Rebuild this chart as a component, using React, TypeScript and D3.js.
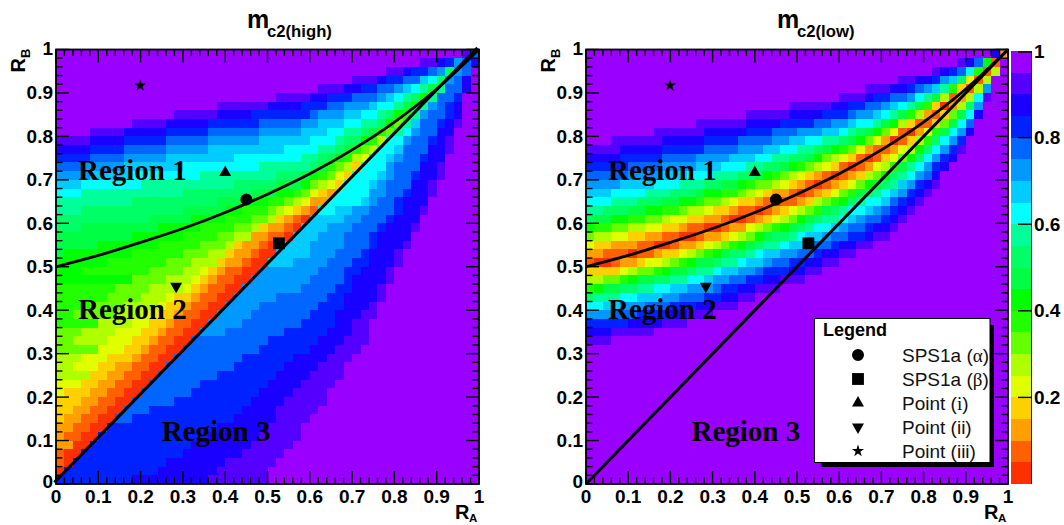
import React from "react";
import * as d3 from "d3";

// Band colours of the palette, from value 0 (index 0) to value 1 (index 19)
const BAND_COLORS = ["#ff3000","#ff6000","#ffa000","#ffd000","#e0ff00","#b0ff00","#66ff00","#22ff00","#00ff00","#00ff44","#00ff66","#00ff99","#00ffff","#00ccff","#0099ff","#0066ff","#0022ff","#1a00ff","#5500ff","#9900ff"];
const AXIS_LABELS = ["0","0.1","0.2","0.3","0.4","0.5","0.6","0.7","0.8","0.9","1"];
const PALETTE_LABELS = [["0.2",0.2],["0.4",0.4],["0.6",0.6],["0.8",0.8],["1",1]] as [string,number][];

// Band of the left-most cell of each histogram row (row 0 = bottom)
const HIGH_BASE = [0,0,1,1,2,2,2,3,3,3,4,4,5,5,5,6,6,6,7,7,7,7,7,8,8,8,9,9,9,10,10,11,11,12,13,14,15,16,17,18,19,19,19,19,19,19,19,19,19,19];
const LOW_BASE = [19,19,19,19,19,19,19,19,19,19,19,19,19,19,19,19,18,17,16,14,12,10,7,5,3,1,2,4,6,8,10,11,12,13,14,15,16,17,18,19,19,19,19,19,19,19,19,19,19,19];

// Band edges as [band, first row, column at which the band starts in each successive row]
type Edge = [number, number, number[]];
const HIGH_EDGES: Edge[] = [
  [18,40,[4,9,14,19,26,31,35,39,43,48]],
  [17,39,[4,8,13,19,25,30,34,38,41,45,49]],
  [16,38,[4,8,13,18,23,29,32,36,39,42,46,49]],
  [15,37,[4,8,13,18,24,30,32,35,38,41,44,47,49]],
  [14,36,[3,8,13,18,24,29,31,34,38,40,43,45,47,49]],
  [13,35,[4,8,13,18,24,29,31,34,37,39,41,43,46,48]],
  [12,34,[3,9,15,21,27,30,32,34,36,38,40,42,44,46,48]],
  [11,33,[3,10,17,24,29,31,33,34,36,38,40,41,43,45,46,48]],
  [10,31,[3,9,15,21,26,30,31,33,34,36,38,39,41,42,44,45,46]],
  [9,29,[3,11,15,19,23,26,29,31,32,34,36,37,39,40,41,43,44,46,47]],
  [8,26,[1,5,9,12,16,20,23,26,29,30,32,33,35,36,38,39,40,42,43,45,46]],
  [7,24,[3,6,9,12,15,17,20,22,25,28,30,31,32,34,35,37,38,40,41,43,44,45]],
  [6,19,[2,4,6,7,9,11,13,15,17,19,21,23,25,27,29,30,32,33,35,36,38,39,40,42,43]],
  [5,16,[2,3,5,7,8,10,11,13,15,16,18,20,21,23,25,26,28,30,31,33,34,35,37,38,40,41]],
  [4,13,[2,3,5,6,7,9,10,12,13,15,16,17,19,20,22,23,25,26,27,29,30,32,33,35,36,38,39]],
  [3,10,[1,3,4,5,6,8,9,10,11,12,13,14,16,17,18,19,20,21,23,24,26,28,30,31,33,34,35,37]],
  [2,7,[1,2,3,4,5,6,7,9,10,11,12,13,14,15,16,17,18,19,20,21,22,23,25,27,29,30,32,34,35]],
  [1,5,[1,2,3,4,5,6,7,8,9,10,11,12,13,14,15,16,17,18,19,20,22,23,24,25,27,28,30,32,33]],
  [0,2,[1,1,2,3,4,5,6,7,8,9,10,11,12,13,14,15,16,17,18,19,20,21,22,23,24,25,27,28,29]],
  [11,40,[40,41,42,43,44,45,46,47,48,49]],
  [12,31,[31,32,33,34,35,36,37,38,39,41,42,43,44,45,46,47,48,49]],
  [13,25,[25,26,27,28,29,30,33,36,37,37,38,39,39,40,41,42,42,43,44,45,46,47,48,49]],
  [14,17,[17,18,19,20,21,22,23,24,28,30,30,31,32,34,35,37,37,38,39,39,40,41,41,42,43,43,44,45,46,46,47,48,49]],
  [15,7,[7,8,9,10,11,12,13,14,15,16,20,22,23,24,26,29,30,31,32,33,34,34,35,36,37,38,39,39,40,40,41,41,42,43,43,44,45,45,46,47,48,48,49]],
  [16,0,[0,1,2,3,4,5,6,9,11,14,16,17,19,21,22,24,25,27,29,30,31,32,33,34,34,35,36,37,37,38,39,40,40,41,42,42,43,43,44,44,45,45,46,46,47,48,48,49,49]],
  [17,0,[9,12,13,15,16,18,19,21,22,23,24,25,26,27,28,30,31,32,33,33,34,34,35,35,36,37,37,38,38,39,40,41,41,42,42,43,43,44,44,45,45,46,47,47,48,48,48,49,49]],
  [18,0,[18,19,20,22,23,24,25,26,26,27,28,29,30,31,32,33,34,35,35,36,37,38,38,39,39,40,40,41,42,42,43,43,44,44,44,45,45,46,46,46,47,47,48,48,48,49,49,49]],
  [19,0,[25,25,26,27,28,29,29,30,31,32,32,33,34,34,35,36,37,37,37,38,38,39,39,40,40,41,41,42,42,43,43,44,44,45,45,46,46,46,47,47,47,48,48,48,48,49,49,49]],
];
const LOW_EDGES: Edge[] = [
  [18,39,[3,8,13,19,24,30,33,37,41,44,48]],
  [17,38,[4,9,14,19,24,29,33,36,39,42,45,48]],
  [16,37,[4,9,14,19,23,28,31,34,38,41,43,46,49]],
  [15,36,[5,9,14,18,22,27,31,33,36,39,42,44,46,49]],
  [14,35,[5,9,13,18,22,25,29,32,35,38,40,42,45,47,49]],
  [13,34,[4,9,13,17,21,24,28,31,34,36,39,41,43,45,47,49]],
  [12,33,[3,8,12,16,20,23,26,30,32,35,37,39,42,44,45,47,49]],
  [11,32,[3,7,11,15,19,22,25,28,31,34,36,38,40,42,44,46,47,49]],
  [10,31,[2,6,10,14,18,21,24,27,30,32,35,37,39,41,43,44,46,47,49]],
  [9,30,[1,5,9,13,16,20,23,26,28,31,33,35,37,39,41,43,45,46,47,49]],
  [8,30,[3,7,11,14,18,21,24,27,29,32,34,36,38,40,42,43,45,46,47,49]],
  [7,29,[1,5,9,13,16,19,22,25,28,30,33,35,37,38,40,42,43,45,46,48,49]],
  [6,29,[3,7,11,14,18,20,23,26,28,31,33,35,37,39,41,42,44,45,47,48,49]],
  [5,28,[1,5,9,12,16,19,22,24,27,29,32,34,36,37,39,41,42,44,45,47,48,49]],
  [4,28,[3,7,10,14,17,20,23,25,28,30,32,34,36,38,40,41,43,44,45,47,48,49]],
  [3,27,[1,5,9,12,15,18,21,24,26,29,31,33,35,37,38,40,41,43,44,46,47,48,49]],
  [2,27,[3,7,11,14,17,20,22,25,27,30,32,33,35,37,39,40,42,43,45,46,47,48,49]],
  [1,26,[2,6,9,12,16,18,21,24,26,28,30,32,34,36,37,39,41,42,43,45,46,47,48,49]],
  [0,25,[1,5,8,11,14,17,20,22,25,27,29,31,33,35,36,38,40,41,42,44,45,46,47,48,49]],
  [1,25,[3,6,10,13,16,19,21,23,26,28,30,32,34,35,37,39,40,41,43,44,45,46,47,48,49]],
  [2,25,[4,8,11,14,17,20,22,25,27,29,31,33,35,36,38,39,41,42,43,44,46,47,48,49,49]],
  [3,25,[6,9,13,16,19,21,23,26,28,30,32,34,35,37,38,40,41,42,44,45,46,47,48,49]],
  [4,24,[4,7,11,14,17,19,22,24,27,29,31,33,34,36,37,39,40,42,43,44,45,46,47,48,49]],
  [5,24,[5,9,12,15,18,20,23,25,27,30,32,33,35,37,38,39,41,42,43,44,45,46,47,48,49]],
  [6,23,[2,6,10,13,16,19,21,24,26,28,30,32,34,36,37,39,40,41,42,43,45,46,47,48,49]],
  [7,23,[4,8,11,14,17,20,22,25,27,29,31,33,35,36,38,39,40,41,43,44,45,46,47,48,49]],
  [8,22,[1,5,9,12,15,18,20,23,25,28,30,32,33,35,37,38,39,41,42,43,44,45,46,47,48,49]],
  [9,22,[2,6,10,13,16,19,21,24,26,28,31,32,34,36,37,39,40,41,42,43,44,45,46,47,48,49]],
  [10,22,[4,8,12,15,17,20,22,25,27,29,31,33,35,36,38,39,40,41,43,44,45,45,46,47,48,49]],
  [11,21,[1,6,10,13,16,19,21,24,26,28,30,32,34,36,37,38,40,41,42,43,44,45,46,47,47,48,49]],
  [12,21,[4,8,12,15,18,20,23,25,27,30,31,33,35,37,38,39,40,41,42,43,44,45,46,46,47,48,49]],
  [13,20,[2,6,10,14,16,19,21,24,26,29,31,33,35,36,37,39,40,41,42,43,44,45,46,46,47,47,48,49]],
  [14,20,[4,9,12,15,18,21,23,26,28,30,32,34,36,37,38,39,40,41,42,43,44,45,46,46,47,47,48,49]],
  [15,19,[3,7,11,15,17,20,22,25,27,29,31,33,35,36,38,39,40,41,42,43,44,45,45,46,47,47,48,48,49]],
  [16,19,[6,10,14,16,19,21,24,27,29,31,33,35,36,37,38,39,41,41,42,43,44,45,46,46,47,47,48,48,49,49]],
  [17,18,[5,10,13,16,18,21,24,26,28,30,33,34,36,37,38,39,40,41,42,43,44,45,45,46,46,47,47,48,48,49,49]],
  [18,17,[3,9,12,15,18,20,23,26,28,30,32,34,36,37,38,39,40,41,42,43,44,44,45,46,46,47,47,47,48,48,49,49]],
  [19,16,[3,8,12,15,18,20,23,26,28,30,32,34,36,37,38,39,40,41,42,42,43,44,45,45,46,46,47,47,48,48,48,49,49]],
];

// Boundary curve and diagonal
const CURVE_RA = [0,0.1,0.2,0.3,0.4,0.5,0.6,0.7,0.8,0.9,1];
const CURVE_RB = [0.5,0.526,0.556,0.588,0.625,0.667,0.714,0.769,0.833,0.909,1];
const DIAGONAL = [0,1];

// Marked points
const POINT_NAMES = ["SPS1a (α)","SPS1a (β)","Point (i)","Point (ii)","Point (iii)"];
const POINT_RA = [0.45,0.527,0.4,0.284,0.199];
const POINT_RB = [0.655,0.554,0.717,0.455,0.917];
const POINT_SHAPES = ["circle","square","up","down","star"];

const REGION_NAMES = ["Region 1","Region 2","Region 3"];
const REGION_RA = [0.052,0.052,0.25];
const REGION_RB = [0.699,0.379,0.098];

const SANS = "'Liberation Sans', Arial, sans-serif";
const SERIF = "'Liberation Serif', 'Times New Roman', serif";

function buildGrid(base: number[], edges: Edge[]): number[][] {
  return base.map((b, r) => {
    const row = new Array(50).fill(b);
    for (const [band, start, cols] of edges) {
      const i = r - start;
      if (i >= 0 && i < cols.length) for (let c = cols[i]; c < 50; c++) row[c] = band;
    }
    return row;
  });
}

function Marker({ shape, x, y }: { shape: string; x: number; y: number }) {
  const gen = d3.symbol();
  let path = "";
  let rot = 0;
  if (shape === "circle") path = gen.type(d3.symbolCircle).size(113)() as string;
  if (shape === "square") path = gen.type(d3.symbolSquare).size(140)() as string;
  if (shape === "up") path = gen.type(d3.symbolTriangle).size(62)() as string;
  if (shape === "down") { path = gen.type(d3.symbolTriangle).size(62)() as string; rot = 180; }
  if (shape === "star") path = gen.type(d3.symbolStar).size(46)() as string;
  return <path d={path} transform={`translate(${x},${y}) rotate(${rot})`} fill="#000" />;
}

function Panel({ x0, x1, grid, title, sub, lineShift }: { x0: number; x1: number; grid: number[][]; title: string; sub: string; lineShift: number }) {
  const yTop = 49.5, yBot = 484;
  const x = d3.scaleLinear().domain([0, 1]).range([x0, x1]);
  const y = d3.scaleLinear().domain([0, 1]).range([yBot, yTop]);
  const line = d3.line<number>().x((_, i) => x(CURVE_RA[i])).y((d) => y(d)).curve(d3.curveMonotoneX);
  const minor = x.ticks(50);
  const runs: { r: number; c0: number; c1: number; band: number }[] = [];
  grid.forEach((row, r) => {
    let c0 = 0;
    for (let c = 1; c <= 50; c++) {
      if (c === 50 || row[c] !== row[c0]) { runs.push({ r, c0, c1: c, band: row[c0] }); c0 = c; }
    }
  });
  return (
    <g>
      {runs.map((d, i) => (
        <rect key={i} x={x(d.c0 / 50)} y={y((d.r + 1) / 50)} width={x(d.c1 / 50) - x(d.c0 / 50)} height={y(d.r / 50) - y((d.r + 1) / 50)} fill={BAND_COLORS[d.band]} shapeRendering="crispEdges" />
      ))}
      <g stroke="#000" strokeWidth={1.4}>
        {minor.map((t, i) => {
          const len = i % 5 === 0 ? 13 : 6.5;
          return (
            <g key={i}>
              <line x1={x(t)} x2={x(t)} y1={yBot} y2={yBot - len} />
              <line x1={x(t)} x2={x(t)} y1={yTop} y2={yTop + len} />
              <line x1={x0} x2={x0 + len} y1={y(t)} y2={y(t)} />
              <line x1={x1} x2={x1 - len} y1={y(t)} y2={y(t)} />
            </g>
          );
        })}
      </g>
      <path d={d3.line<number>().x((d) => x(d) - lineShift).y((d) => y(d) - lineShift)(DIAGONAL) as string} stroke="#000" strokeWidth={3} fill="none" />
      <path d={line(CURVE_RB) as string} stroke="#000" strokeWidth={2.8} fill="none" />
      <rect x={x0} y={yTop} width={x1 - x0} height={yBot - yTop} fill="none" stroke="#000" strokeWidth={1.8} />
      {AXIS_LABELS.map((l, i) => (
        <g key={l} fontFamily={SANS} fontWeight="bold" fontSize={19} fill="#000">
          <text x={x(i / 10)} y={503} textAnchor="middle">{l}</text>
          <text x={x0 - 3} y={y(i / 10) + (i === 0 ? 4 : i === 10 ? 5 : 6.5)} textAnchor="end">{l}</text>
        </g>
      ))}
      <g fontFamily={SANS} fontWeight="bold" fill="#000">
        <text transform={`translate(${x0 - 31},72.5) rotate(-90)`} fontSize={20}>R</text>
        <text transform={`translate(${x0 - 26},58) rotate(-90)`} fontSize={13}>B</text>
        <text x={x1 - 24} y={519} fontSize={20}>R</text>
        <text x={x1 - 10} y={522} fontSize={11.5}>A</text>
        <text x={x0 + 191} y={28} fontSize={25}>{title}</text>
        <text x={x0 + 211} y={37} fontSize={16.7}>{sub}</text>
      </g>
      {REGION_NAMES.map((l, i) => (
        <text key={l} x={x(REGION_RA[i])} y={y(REGION_RB[i])} fontFamily={SERIF} fontWeight="bold" fontSize={29} fill="#000">{l}</text>
      ))}
      {POINT_SHAPES.map((s, i) => (
        <Marker key={s} shape={s} x={x(POINT_RA[i])} y={y(POINT_RB[i])} />
      ))}
    </g>
  );
}

function Palette() {
  const v = d3.scaleLinear().domain([0, 1]).range([484, 51]);
  return (
    <g>
      {BAND_COLORS.map((c, i) => (
        <rect key={c} x={1011} width={20.5} y={v((i + 1) / 20)} height={v(i / 20) - v((i + 1) / 20)} fill={c} shapeRendering="crispEdges" />
      ))}
      <line x1={1031.5} x2={1031.5} y1={51} y2={484} stroke="#222" strokeWidth={1} />
      {PALETTE_LABELS.map(([l, t]) => (
        <g key={l}>
          <line x1={1018} x2={1032} y1={v(t) + (t === 1 ? 1 : 0)} y2={v(t) + (t === 1 ? 1 : 0)} stroke="#000" strokeWidth={1.4} />
          <text x={1034} y={v(t) + 6.5} fontFamily={SANS} fontWeight="bold" fontSize={19} fill="#000">{l}</text>
        </g>
      ))}
    </g>
  );
}

function Legend() {
  const rows = d3.scalePoint<number>().domain([0, 1, 2, 3, 4]).range([355, 451]);
  return (
    <g>
      <rect x={821} y={325} width={173} height={142} fill="#000" />
      <rect x={814.5} y={318.5} width={175.5} height={144} fill="#fff" stroke="#000" strokeWidth={1} />
      <text x={823} y={336} fontFamily={SANS} fontWeight="bold" fontSize={18} fill="#000">Legend</text>
      {POINT_NAMES.map((n, i) => {
        const m = n.match(/^(.*\()(.)(\))$/);
        return (
          <g key={n}>
            <Marker shape={POINT_SHAPES[i]} x={858} y={rows(i) as number} />
            <text x={902} y={(rows(i) as number) + 7} fontFamily={SANS} fontSize={19} fill="#111">
              {m ? <>{m[1]}<tspan fontFamily={SERIF}>{m[2]}</tspan>{m[3]}</> : n}
            </text>
          </g>
        );
      })}
    </g>
  );
}

export default function App() {
  const high = buildGrid(HIGH_BASE, HIGH_EDGES);
  const low = buildGrid(LOW_BASE, LOW_EDGES);
  return (
    <svg width={1064} height={525} viewBox="0 0 1064 525" style={{ position: "absolute", left: 0, top: 0, background: "#fff" }}>
      <Panel x0={56} x1={479} grid={high} title="m" sub="c2(high)" lineShift={1.6} />
      <Panel x0={586} x1={1008} grid={low} title="m" sub="c2(low)" lineShift={0} />
      <Palette />
      <Legend />
    </svg>
  );
}
